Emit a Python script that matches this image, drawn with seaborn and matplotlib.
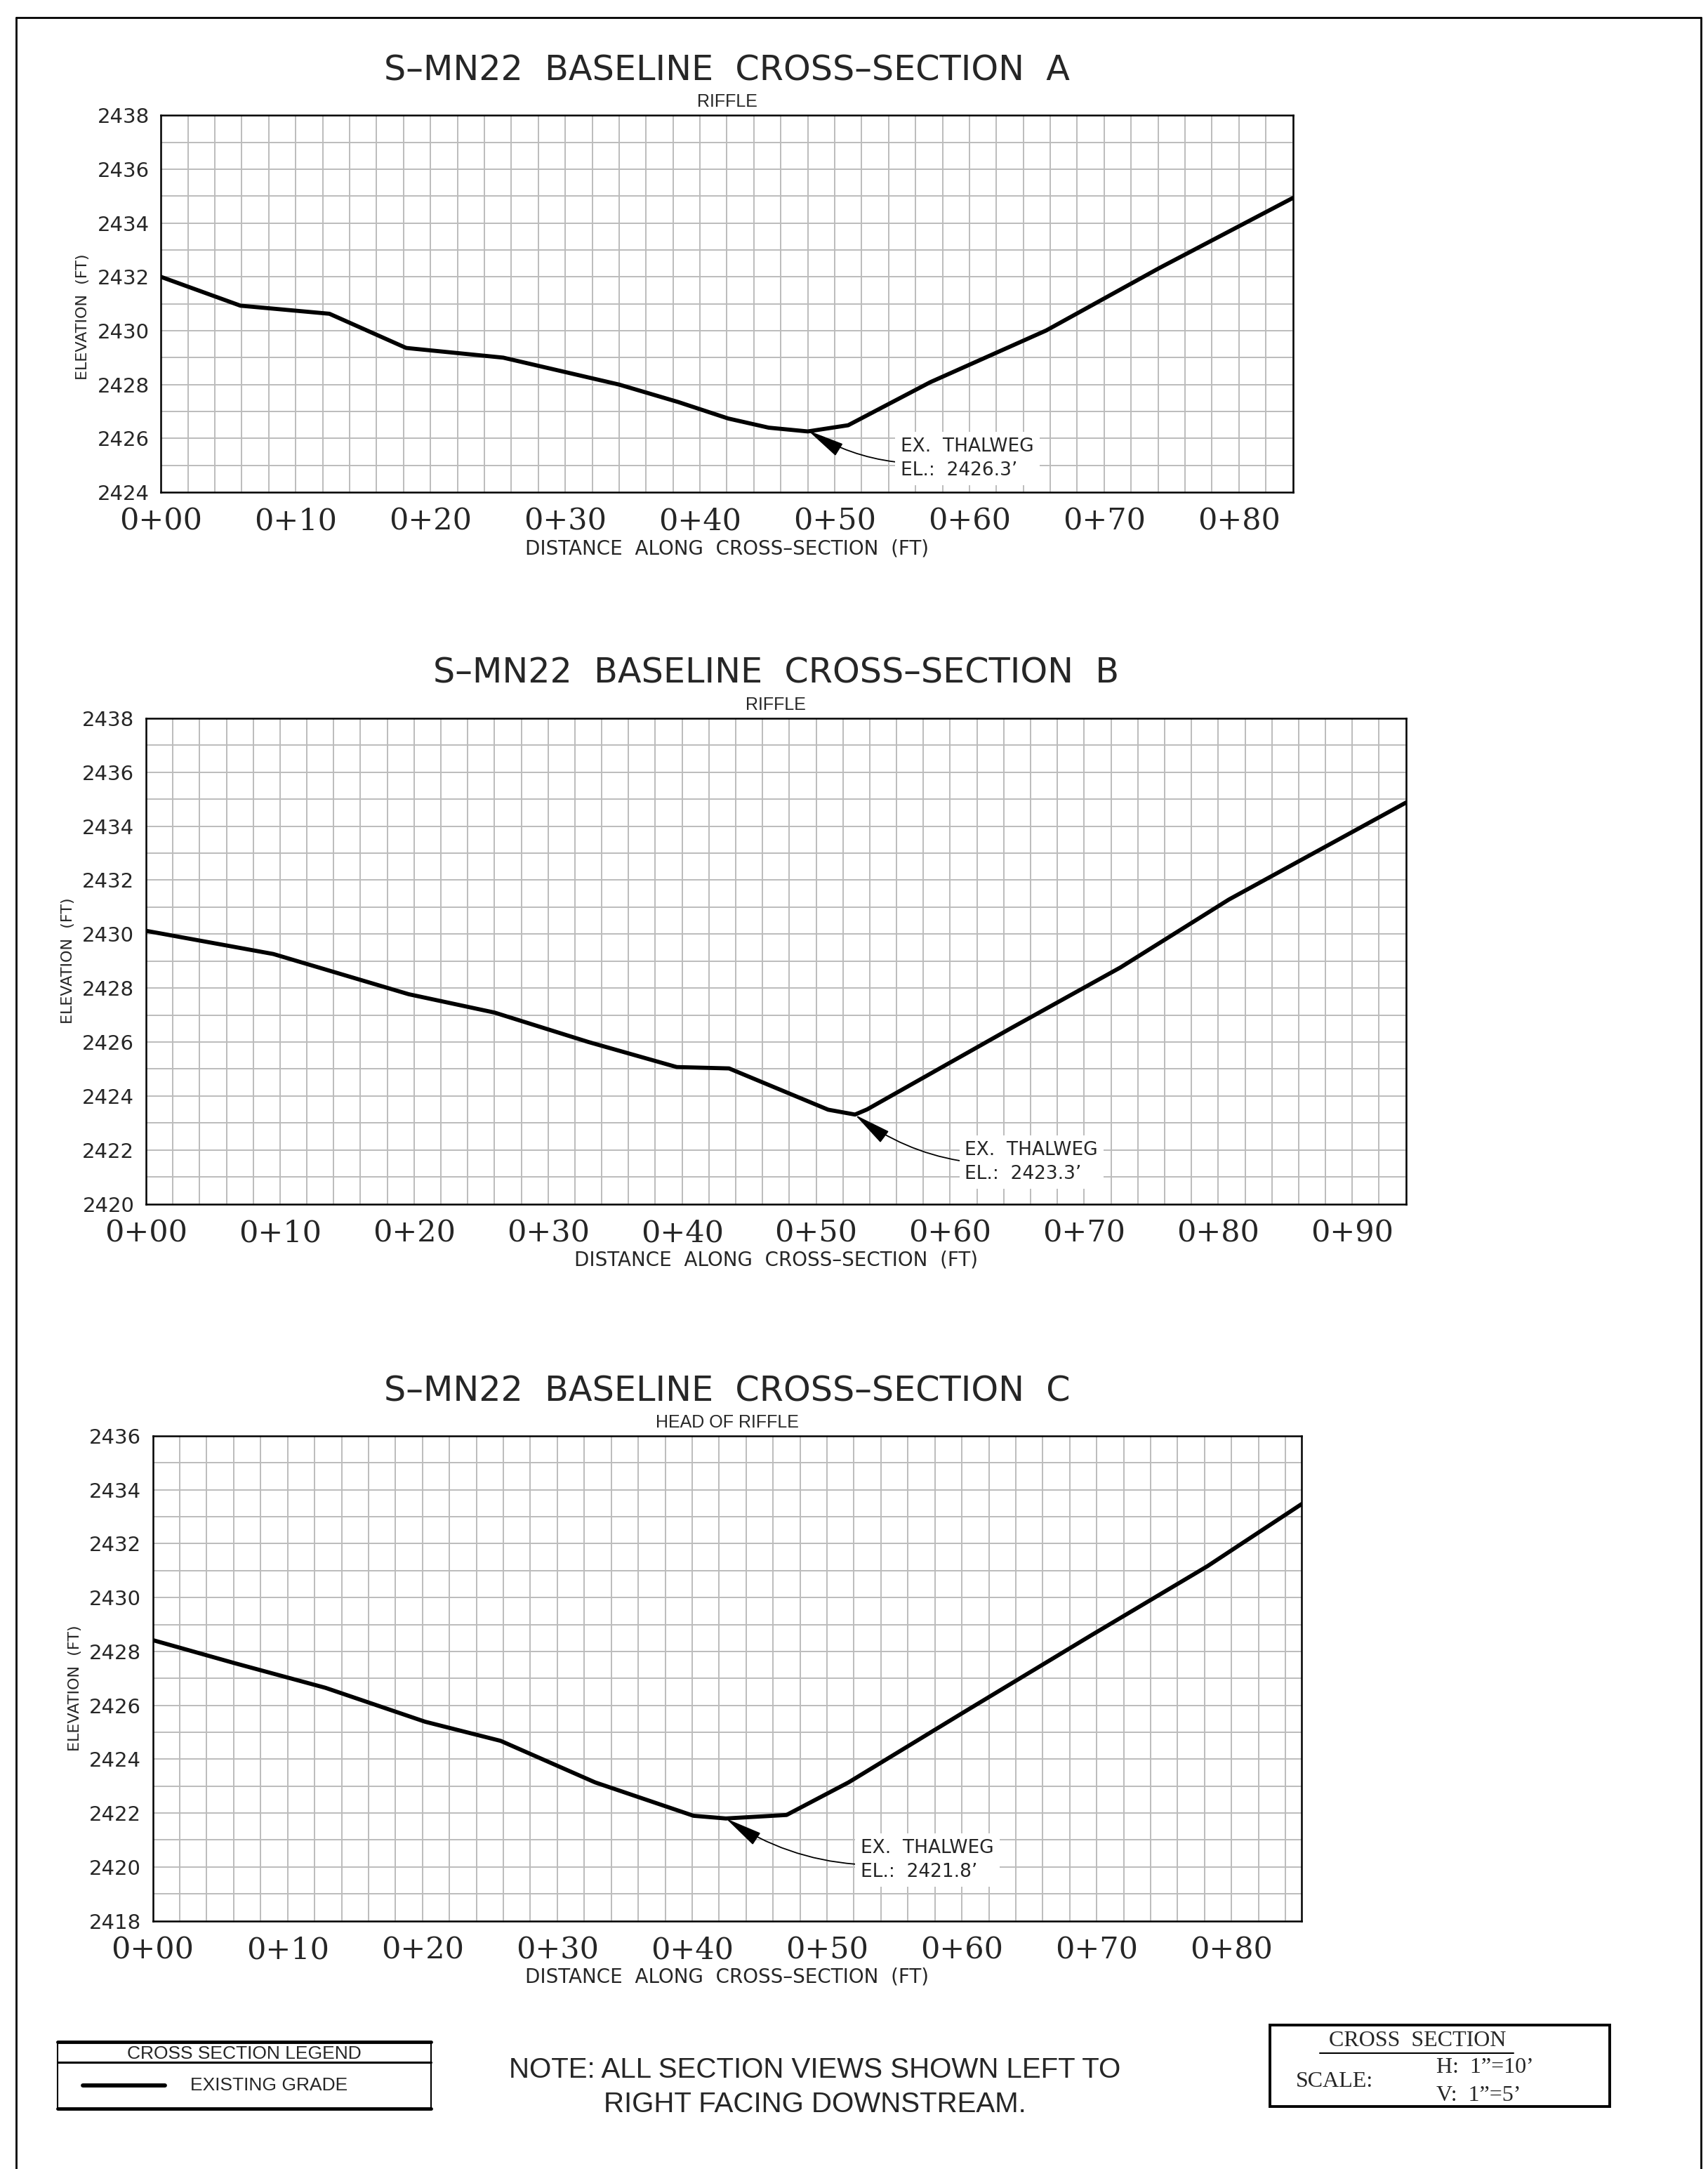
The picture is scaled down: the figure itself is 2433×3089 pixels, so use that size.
import matplotlib
matplotlib.use("Agg")
import matplotlib.pyplot as plt
import matplotlib.transforms as mtransforms
from matplotlib.ticker import MultipleLocator, FuncFormatter
from matplotlib.patches import Rectangle
from matplotlib.lines import Line2D
import pandas as pd
import seaborn as sns

# --- surveyed ground profiles (station ft, elevation ft) ---
sta_a = [0, 5.9, 12.5, 18.2, 25.4, 34.0, 38.4, 42.1, 45.1, 48.0, 51.0, 57.1, 65.7, 74.1, 84.0]
elev_a = [2432.0, 2430.93, 2430.63, 2429.36, 2429.0, 2428.0, 2427.35, 2426.74, 2426.4, 2426.26,
          2426.49, 2428.09, 2430.01, 2432.33, 2434.93]

sta_b = [0, 9.5, 19.6, 26.0, 33.0, 39.6, 43.5, 50.9, 52.9, 53.8, 64.5, 72.7, 80.8, 94.0]
elev_b = [2430.12, 2429.26, 2427.77, 2427.09, 2426.0, 2425.07, 2425.02, 2423.49, 2423.31, 2423.5,
          2426.5, 2428.76, 2431.28, 2434.87]

sta_c = [0, 6.1, 12.8, 20.2, 25.8, 32.8, 40.1, 42.5, 47.0, 51.6, 60.0, 69.6, 78.2, 85.2]
elev_c = [2428.42, 2427.56, 2426.65, 2425.39, 2424.68, 2423.14, 2421.9, 2421.8, 2421.93, 2423.14,
          2425.7, 2428.6, 2431.16, 2433.47]

# thalweg (station, elevation) per section
thalweg_sta = [48.0, 52.9, 42.5]
thalweg_elev = [2426.3, 2423.3, 2421.8]

section_names = ["A", "B", "C"]
section_types = ["RIFFLE", "RIFFLE", "HEAD OF RIFFLE"]
x_max = [84, 94, 85.2]
y_lims = [(2424, 2438), (2420, 2438), (2418, 2436)]

W, H = 2433, 3089

sns.set_style("white")
plt.rcParams["font.family"] = ["DejaVu Sans"]

fig = plt.figure(figsize=(W / 100, H / 100), dpi=100)


def px_axes(x0, y0, x1, y1):
    return fig.add_axes([x0 / W, 1 - y1 / H, (x1 - x0) / W, (y1 - y0) / H])


# axes boxes in pixels (left, top, right, bottom)
boxes = [(229.3, 164.2, 1841.6, 701.1), (208, 1022.8, 2002.6, 1714.5), (217.6, 2044.9, 1854.2, 2735.6)]
label_pos = [(54.9, 2425.26), (61.1, 2421.55), (52.5, 2420.25)]
ylabel_y = [0.465, 0.5, 0.48]

frames = [pd.DataFrame({"station": s, "elevation": e})
          for s, e in [(sta_a, elev_a), (sta_b, elev_b), (sta_c, elev_c)]]

for i, df in enumerate(frames):
    x0, y0, x1, y1 = boxes[i]
    ax = px_axes(x0, y0, x1, y1)
    ax.set_xlim(0, x_max[i])
    ax.set_ylim(*y_lims[i])

    ax.xaxis.set_major_locator(MultipleLocator(10))
    ax.xaxis.set_minor_locator(MultipleLocator(2))
    ax.yaxis.set_major_locator(MultipleLocator(2))
    ax.yaxis.set_minor_locator(MultipleLocator(1))
    ax.grid(True, which="both", color="#bcbcbc", lw=1.4)
    ax.set_axisbelow(True)
    ax.tick_params(which="both", length=0)
    ax.tick_params(axis="x", pad=15, labelsize=31)
    ax.tick_params(axis="y", pad=12, labelsize=21)
    ax.xaxis.set_major_formatter(FuncFormatter(lambda v, p: f"0+{int(round(v)):02d}"))
    for lab in ax.get_xticklabels():
        lab.set_fontfamily(["DejaVu Serif"])
    for sp in ax.spines.values():
        sp.set_color("black")
        sp.set_linewidth(1.8)

    sns.lineplot(data=df, x="station", y="elevation", ax=ax, color="black", lw=4.2,
                 estimator=None, sort=False)

    ax.set_xlabel("DISTANCE  ALONG  CROSS\u2013SECTION  (FT)", fontsize=20)
    ax.xaxis.set_label_coords(0.5, 0, transform=mtransforms.offset_copy(
        ax.transAxes, fig, x=0, y=-80, units="dots"))
    ax.xaxis.label.set_va("center")
    ax.set_ylabel("ELEVATION  (FT)", fontsize=16)
    ax.yaxis.set_label_coords(-111 / (x1 - x0), ylabel_y[i])
    ax.yaxis.label.set_va("center")

    ax.annotate(f"S\u2013MN22  BASELINE  CROSS\u2013SECTION  {section_names[i]}",
                xy=(0.5, 1), xycoords="axes fraction", xytext=(0, 46), textcoords="offset points",
                ha="center", va="center", fontsize=35.5)
    ax.annotate(section_types[i], xy=(0.5, 1), xycoords="axes fraction", xytext=(0, 13.5),
                textcoords="offset points", ha="center", va="center", fontsize=18,
                family=["Liberation Sans"])

    ax.annotate(f"EX.  THALWEG\nEL.:  {thalweg_elev[i]:.1f}\u2019",
                xy=(thalweg_sta[i], thalweg_elev[i]), xytext=label_pos[i], textcoords="data",
                ha="left", va="center", fontsize=19, linespacing=1.4,
                bbox=dict(boxstyle="square,pad=0.3", fc="white", ec="none"),
                arrowprops=dict(arrowstyle="-|>,head_length=2.4,head_width=0.45", color="black",
                                lw=1.3, connectionstyle="arc3,rad=-0.2", shrinkA=0, shrinkB=0,
                                mutation_scale=14))

# overlay in pixel coordinates for sheet border, legend and notes
ov = fig.add_axes([0, 0, 1, 1])
ov.set_xlim(0, W)
ov.set_ylim(H, 0)
ov.axis("off")
ov.patch.set_visible(False)

ov.add_line(Line2D([23, 23], [25, H], color="black", lw=2))
ov.add_line(Line2D([23, 2423], [25, 25], color="black", lw=2))
ov.add_line(Line2D([2423, 2423], [25, H], color="black", lw=2))

# legend box
ov.add_patch(Rectangle((82, 2908), 532, 95, fill=False, ec="black", lw=1.5))
ov.add_line(Line2D([82, 614], [2908, 2908], color="black", lw=3.5))
ov.add_line(Line2D([82, 614], [3003, 3003], color="black", lw=3.5))
ov.add_line(Line2D([82, 614], [2937, 2937], color="black", lw=2.2))
ov.text(348, 2925, "CROSS SECTION LEGEND", ha="center", va="center", fontsize=19,
        family=["Liberation Sans"])
ov.add_line(Line2D([118, 235], [2970, 2970], color="black", lw=4.2))
ov.text(271, 2970, "EXISTING GRADE", ha="left", va="center", fontsize=19, family=["Liberation Sans"])

ov.text(1161, 2948, "NOTE: ALL SECTION VIEWS SHOWN LEFT TO", ha="center", va="center",
        fontsize=29, family=["Liberation Sans"])
ov.text(1161, 2997, "RIGHT FACING DOWNSTREAM.", ha="center", va="center",
        fontsize=29, family=["Liberation Sans"])

# scale box
ov.add_patch(Rectangle((1809, 2884), 484, 116, fill=False, ec="black", lw=2.8))
ov.text(2019, 2907, "CROSS  SECTION", ha="center", va="center", fontsize=23,
        family=["Liberation Serif"])
ov.add_line(Line2D([1880, 2156], [2924, 2924], color="black", lw=1.5))
ov.text(1846, 2964, "SCALE:", ha="left", va="center", fontsize=23, family=["Liberation Serif"])
ov.text(2046, 2944, "H:  1\u201d=10\u2019", ha="left", va="center", fontsize=23,
        family=["Liberation Serif"])
ov.text(2046, 2984, "V:  1\u201d=5\u2019", ha="left", va="center", fontsize=23,
        family=["Liberation Serif"])

fig.savefig("out.png", dpi=100, facecolor="white")
